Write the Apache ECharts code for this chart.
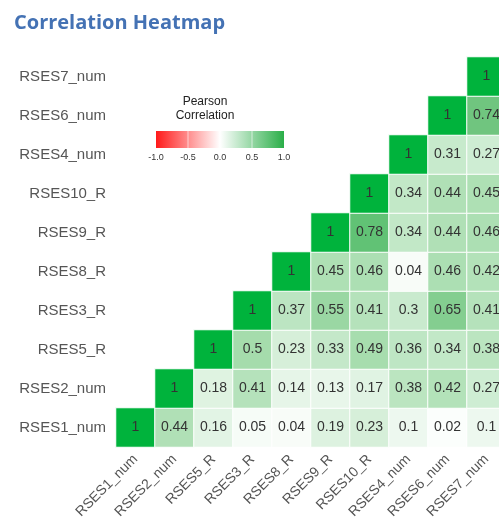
<!DOCTYPE html>
<html>
<head>
<meta charset="utf-8">
<script src="https://cdn.jsdelivr.net/npm/echarts@6/dist/echarts.min.js"></script>
<style>
  html, body { margin: 0; padding: 0; background: #fff; }
  #app { width: 499px; height: 524px; }
</style>
</head>
<body>
<div id="app"></div>
<script>
// variables, bottom to top on y, left to right on x
var variables = ['RSES1_num', 'RSES2_num', 'RSES5_R', 'RSES3_R', 'RSES8_R',
                 'RSES9_R', 'RSES10_R', 'RSES4_num', 'RSES6_num', 'RSES7_num'];

// each row starts at its own diagonal cell
var rowRSES1_num = [1, 0.44, 0.16, 0.05, 0.04, 0.19, 0.23, 0.1, 0.02, 0.1];
var rowRSES2_num = [1, 0.18, 0.41, 0.14, 0.13, 0.17, 0.38, 0.42, 0.27];
var rowRSES5_R   = [1, 0.5, 0.23, 0.33, 0.49, 0.36, 0.34, 0.38];
var rowRSES3_R   = [1, 0.37, 0.55, 0.41, 0.3, 0.65, 0.41];
var rowRSES8_R   = [1, 0.45, 0.46, 0.04, 0.46, 0.42];
var rowRSES9_R   = [1, 0.78, 0.34, 0.44, 0.46];
var rowRSES10_R  = [1, 0.34, 0.44, 0.45];
var rowRSES4_num = [1, 0.31, 0.27];
var rowRSES6_num = [1, 0.74];
var rowRSES7_num = [1];

var legendTicks = [-1.0, -0.5, 0.0, 0.5, 1.0];

var rows = [rowRSES1_num, rowRSES2_num, rowRSES5_R, rowRSES3_R, rowRSES8_R,
            rowRSES9_R, rowRSES10_R, rowRSES4_num, rowRSES6_num, rowRSES7_num];

var data = [];
rows.forEach(function (row, y) {
  row.forEach(function (v, k) {
    data.push([y + k, y, v]);
  });
});

// colour ramp from -1 to 1 (evenly spaced stops)
var ramp = ['#ff1a1a', '#ff6a6a', '#ff9f9f', '#ffd0d0', '#ffffff',
            '#d2eed6', '#a5dcac', '#6ec47d', '#00b33c'];

var FONT = '"Liberation Sans", Arial, sans-serif';
var chart = echarts.init(document.getElementById('app'));

// legend: gradient bar with tick labels
var barX = 156, barY = 131, barW = 128, barH = 17;
var legendGraphics = [
  {
    type: 'text', x: 205, y: 95,
    style: { text: 'Pearson\nCorrelation', font: '12px ' + FONT,
             fill: '#222', align: 'center', lineHeight: 14 }
  },
  {
    type: 'rect', shape: { x: barX, y: barY, width: barW, height: barH },
    style: {
      fill: new echarts.graphic.LinearGradient(0, 0, 1, 0, [
        { offset: 0, color: '#ff1a1a' },
        { offset: 0.5, color: '#ffffff' },
        { offset: 1, color: '#2aae48' }
      ])
    }
  }
];
legendTicks.forEach(function (t, i) {
  var x = barX + barW * (t + 1) / 2;
  if (i > 0 && i < legendTicks.length - 1) {
    legendGraphics.push({
      type: 'line', shape: { x1: x, y1: barY, x2: x, y2: barY + barH },
      style: { stroke: 'rgba(255,255,255,0.6)', lineWidth: 1 }
    });
  }
  legendGraphics.push({
    type: 'text', x: x, y: barY + barH + 5,
    style: { text: t.toFixed(1), font: '9px ' + FONT, fill: '#333', align: 'center' }
  });
});

var option = {
  backgroundColor: '#fff',
  animation: false,
  title: {
    text: 'Correlation Heatmap',
    left: 9, top: 8,
    textStyle: { color: '#4472b4', fontSize: 20, fontWeight: 'bold',
                 fontFamily: '"Open Sans", sans-serif' }
  },
  grid: { left: 116, top: 57, width: 390, height: 390, outerBoundsMode: 'none' },
  xAxis: {
    type: 'category', data: variables,
    axisLine: { show: false }, axisTick: { show: false }, splitLine: { show: false },
    axisLabel: { rotate: 45, interval: 0, color: '#555', fontSize: 14, margin: 10,
                 fontFamily: FONT }
  },
  yAxis: {
    type: 'category', data: variables,
    axisLine: { show: false }, axisTick: { show: false }, splitLine: { show: false },
    axisLabel: { interval: 0, color: '#555', fontSize: 15, margin: 10, fontFamily: FONT }
  },
  visualMap: {
    show: false, min: -1, max: 1, dimension: 2,
    inRange: { color: ramp }
  },
  graphic: legendGraphics,
  series: [{
    type: 'heatmap',
    data: data,
    itemStyle: { borderColor: '#fff', borderWidth: 1 },
    label: {
      show: true, color: '#333', fontSize: 14, fontFamily: FONT,
      formatter: function (p) { return String(p.value[2]); }
    },
    emphasis: { disabled: true }
  }]
};

chart.setOption(option);
</script>
</body>
</html>
